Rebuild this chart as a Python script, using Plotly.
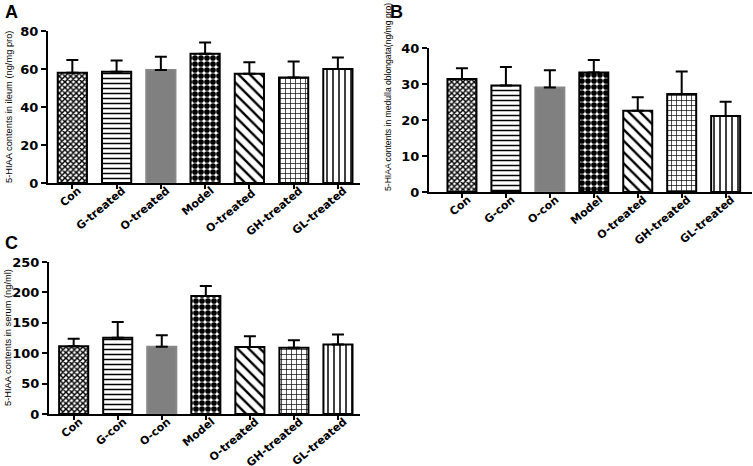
import plotly.graph_objects as go

cats_A = ["Con", "G-treated", "O-treated", "Model", "O-treated ", "GH-treated", "GL-treated"]
cats_BC = ["Con", "G-con", "O-con", "Model", "O-treated", "GH-treated", "GL-treated"]

vals_A = [58.0, 58.5, 59.5, 68.0, 57.5, 55.5, 60.0]
err_A = [6.7, 6.0, 7.0, 6.0, 6.0, 8.5, 6.0]

vals_B = [31.4, 29.6, 29.0, 33.2, 22.6, 27.2, 21.1]
err_B = [3.0, 5.1, 4.8, 3.5, 3.7, 6.3, 4.0]

vals_C = [111.6, 125.3, 110.5, 194.2, 110.0, 108.8, 114.4]
err_C = [12.0, 26.2, 19.2, 16.4, 18.0, 12.7, 16.4]

y_titles = ["5-HIAA contents in ileum (ng/mg pro)",
            "5-HIAA contents in medulla oblongata(ng/mg pro)",
            "5-HIAA contents in serum (ng/ml)"]
panel_letters = ["A", "B", "C"]

shapes = ["x", "-", "", ".", "\\", "+", "|"]
fills = ["white", "white", "#808080", "white", "white", "white", "white"]
sizes = [4, 5, 8, 6, 8, 5, 6]
solid = [0.6, 0.3, 0.3, 0.7, 0.3, 0.25, 0.25]

W, H = 753, 466

def px_dom(a, b):
    return [a / W, b / W]

def ydom(top, bottom):
    return [1 - bottom / H, 1 - top / H]

fig = go.Figure()

panels = [
    (cats_A, vals_A, err_A, "x", "y"),
    (cats_BC, vals_B, err_B, "x2", "y2"),
    (cats_BC, vals_C, err_C, "x3", "y3"),
]

for cats, vals, errs, xa, ya in panels:
    for i in range(len(cats)):
        pat = dict(shape=shapes[i], size=sizes[i], solidity=solid[i], fgcolor="black",
                   bgcolor=fills[i], fillmode="replace")
        fig.add_trace(go.Bar(
            x=[cats[i]], y=[vals[i]], xaxis=xa, yaxis=ya, width=0.66,
            marker=dict(color=fills[i], line=dict(color="#888888" if i == 2 else "black", width=2),
                        pattern=pat if shapes[i] else None),
            error_y=dict(type="data", array=[errs[i]], arrayminus=[0], symmetric=False,
                         color="black", thickness=2, width=6),
            showlegend=False, hoverinfo="skip",
        ))

axis_common = dict(showline=True, linecolor="black", linewidth=2, ticks="outside",
                   tickcolor="black", tickwidth=2, showgrid=False, zeroline=False,
                   mirror=False, automargin=False)
xfont = dict(family="DejaVu Sans", size=11, color="black", weight="bold")
yfont = dict(family="DejaVu Sans", size=13, color="black", weight="bold")
lfont = dict(family="Liberation Sans", size=18, color="black", weight="bold")
xextra = dict(tickangle=-40, tickfont=xfont, ticklen=4, ticklabelstandoff=-9, ticklabelshift=6)

fig.update_layout(
    width=W, height=H, margin=dict(l=0, r=0, t=0, b=0, autoexpand=False),
    paper_bgcolor="white", plot_bgcolor="white", bargap=0.3,
    xaxis=dict(domain=px_dom(48, 360), range=[-0.55, 6.5], anchor="y", **xextra, **axis_common),
    yaxis=dict(domain=ydom(31, 183), range=[0, 80], dtick=20, tickfont=yfont, ticklen=5,
               anchor="x", **axis_common),
    xaxis2=dict(domain=px_dom(429, 752), range=[-0.75, 6.6], anchor="y2", **xextra, **axis_common),
    yaxis2=dict(domain=ydom(48, 192), range=[0, 40], dtick=10, tickfont=yfont, ticklen=5,
                anchor="x2", **axis_common),
    xaxis3=dict(domain=px_dom(49, 360), range=[-0.56, 6.5], anchor="y3", **xextra, **axis_common),
    yaxis3=dict(domain=ydom(262, 414), range=[0, 250], dtick=50, tickfont=yfont, ticklen=5,
                anchor="x3", **axis_common),
)

title_pos = [(9, 107, 9.3), (388, 97, 8.6), (8, 338, 9.3)]
for t, (tx, ty, fs) in zip(y_titles, title_pos):
    fig.add_annotation(text=t, x=tx / W, y=1 - ty / H, xref="paper", yref="paper",
                       showarrow=False, textangle=-90, xanchor="center", yanchor="middle",
                       font=dict(family="Liberation Sans Narrow, Liberation Sans", size=fs, color="black"))

letter_pos = [(3, 12), (388, 12), (3, 243)]
for t, (lx, ly) in zip(panel_letters, letter_pos):
    fig.add_annotation(text=t, x=lx / W, y=1 - ly / H, xref="paper", yref="paper",
                       showarrow=False, xanchor="left", yanchor="middle", font=lfont)

fig.write_html("out.html", config={"displayModeBar": False},
               post_script="document.body.style.margin='0';document.body.style.overflow='hidden';")
